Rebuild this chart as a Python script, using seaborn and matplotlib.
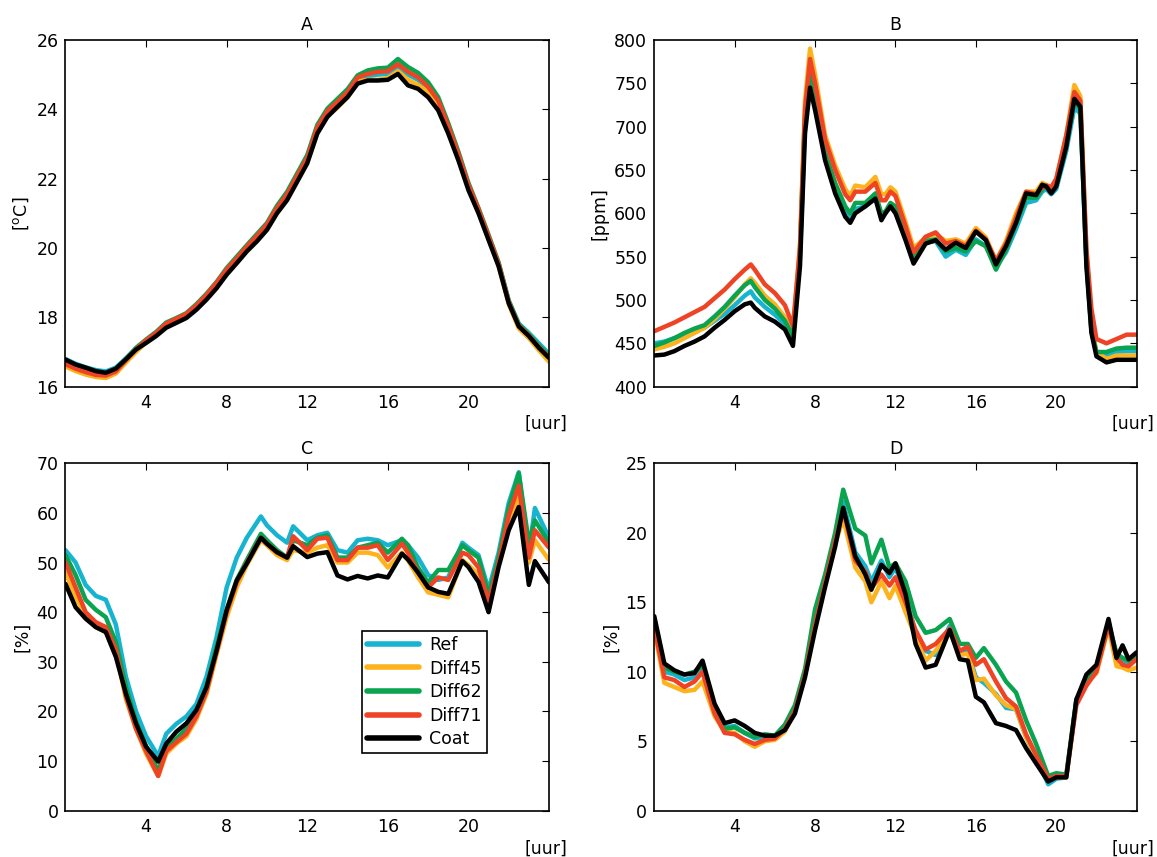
import numpy as np
import pandas as pd
import matplotlib
matplotlib.use("Agg")
import matplotlib.pyplot as plt
import seaborn as sns

series = ["Ref", "Diff45", "Diff62", "Diff71", "Coat"]
colors = {"Ref": "#17b4d0", "Diff45": "#fcb31e", "Diff62": "#0aa350",
          "Diff71": "#ee4325", "Coat": "#000000"}

# A: temperature [oC], half-hourly
hours_a = [0, 0.5, 1, 1.5, 2, 2.5, 3, 3.5, 4, 4.5, 5, 5.5, 6, 6.5, 7, 7.5, 8, 8.5,
           9, 9.5, 10, 10.5, 11, 11.5, 12, 12.5, 13, 13.5, 14, 14.5, 15, 15.5, 16,
           16.5, 17, 17.5, 18, 18.5, 19, 19.5, 20, 20.5, 21, 21.5, 22, 22.5, 23, 23.5, 24]
temp_ref = [16.80, 16.66, 16.56, 16.48, 16.44, 16.55, 16.82, 17.10, 17.32, 17.52, 17.78, 17.92,
            18.05, 18.30, 18.60, 18.95, 19.33, 19.66, 20.00, 20.30, 20.62, 21.10, 21.50, 22.02,
            22.55, 23.42, 23.90, 24.17, 24.45, 24.85, 24.95, 25.00, 25.02, 25.20, 25.00, 24.85,
            24.60, 24.20, 23.48, 22.68, 21.80, 21.10, 20.32, 19.55, 18.48, 17.82, 17.55, 17.25, 16.95]
temp_d45 = [16.58, 16.45, 16.35, 16.28, 16.25, 16.38, 16.70, 17.00, 17.28, 17.50, 17.76, 17.90,
            18.02, 18.28, 18.55, 18.90, 19.28, 19.60, 19.95, 20.25, 20.55, 21.05, 21.42, 21.95,
            22.48, 23.35, 23.80, 24.05, 24.35, 24.80, 24.85, 24.85, 24.90, 25.10, 24.85, 24.70,
            24.50, 24.10, 23.40, 22.60, 21.75, 21.05, 20.27, 19.48, 18.38, 17.68, 17.40, 17.05, 16.72]
temp_d62 = [16.72, 16.60, 16.50, 16.42, 16.38, 16.48, 16.80, 17.12, 17.36, 17.58, 17.85, 17.98,
            18.12, 18.38, 18.68, 19.02, 19.42, 19.75, 20.08, 20.40, 20.72, 21.22, 21.62, 22.15,
            22.68, 23.55, 24.02, 24.30, 24.58, 24.98, 25.12, 25.18, 25.20, 25.45, 25.22, 25.05,
            24.78, 24.35, 23.60, 22.78, 21.88, 21.15, 20.38, 19.58, 18.48, 17.80, 17.50, 17.18, 16.88]
temp_d71 = [16.65, 16.52, 16.42, 16.34, 16.32, 16.44, 16.76, 17.08, 17.34, 17.55, 17.82, 17.96,
            18.10, 18.35, 18.65, 19.00, 19.38, 19.70, 20.04, 20.35, 20.68, 21.16, 21.55, 22.08,
            22.60, 23.48, 23.95, 24.22, 24.50, 24.92, 25.02, 25.08, 25.10, 25.30, 25.08, 24.92,
            24.65, 24.25, 23.52, 22.72, 21.82, 21.12, 20.34, 19.54, 18.44, 17.76, 17.48, 17.14, 16.85]
temp_coat = [16.78, 16.64, 16.55, 16.45, 16.40, 16.52, 16.79, 17.07, 17.26, 17.46, 17.70, 17.84,
             17.98, 18.22, 18.51, 18.84, 19.23, 19.56, 19.90, 20.19, 20.52, 21.00, 21.38, 21.91,
             22.44, 23.30, 23.78, 24.07, 24.35, 24.74, 24.83, 24.83, 24.85, 25.02, 24.69, 24.59,
             24.35, 23.97, 23.30, 22.53, 21.67, 21.00, 20.23, 19.47, 18.41, 17.74, 17.46, 17.12, 16.83]

# B: CO2 [ppm]
hours_b = [0, 0.5, 1, 1.5, 2, 2.5, 3, 3.5, 4, 4.5, 4.8, 5, 5.5, 6, 6.5, 6.9, 7.25, 7.5, 7.75, 8,
           8.5, 9, 9.5, 9.75, 10, 10.5, 11, 11.3, 11.5, 11.75, 12, 12.5, 12.9, 13.5, 14, 14.5, 15,
           15.5, 16, 16.5, 17, 17.5, 18, 18.5, 19, 19.3, 19.5, 19.75, 20, 20.5, 20.9, 21.2, 21.5,
           21.75, 22, 22.5, 23, 23.5, 24]
co2_ref = [450, 452, 456, 460, 464, 468, 476, 484, 494, 505, 510, 503, 492, 483, 472, 455, 550, 705,
           758, 730, 665, 630, 603, 596, 605, 608, 618, 596, 600, 608, 602, 572, 546, 566, 568, 550,
           558, 552, 570, 562, 538, 555, 582, 612, 615, 625, 628, 622, 628, 672, 722, 715, 545, 465,
           438, 436, 440, 441, 441]
co2_d45 = [443, 446, 450, 456, 462, 468, 478, 490, 503, 518, 525, 520, 505, 495, 480, 462, 565, 730,
           790, 760, 690, 655, 628, 620, 632, 630, 642, 622, 622, 630, 625, 590, 560, 572, 576, 568,
           570, 565, 583, 572, 545, 568, 600, 625, 625, 635, 633, 630, 638, 690, 748, 735, 555, 470,
           440, 432, 436, 436, 436]
co2_d62 = [447, 451, 456, 462, 467, 471, 481, 492, 505, 517, 522, 515, 500, 490, 476, 458, 555, 710,
           762, 735, 670, 635, 608, 600, 612, 612, 623, 600, 602, 612, 608, 578, 550, 568, 570, 556,
           560, 556, 568, 562, 535, 558, 588, 618, 618, 628, 632, 625, 632, 680, 730, 720, 545, 465,
           440, 440, 444, 445, 445]
co2_d71 = [464, 469, 474, 480, 486, 492, 502, 512, 524, 535, 541, 535, 518, 508, 494, 470, 560, 720,
           778, 750, 685, 650, 622, 615, 625, 625, 635, 615, 615, 625, 620, 585, 555, 573, 578, 565,
           568, 562, 580, 570, 545, 565, 595, 625, 622, 630, 632, 630, 640, 690, 740, 730, 560, 490,
           455, 450, 455, 460, 460]
co2_coat = [436, 437, 441, 447, 452, 458, 468, 477, 487, 495, 497, 491, 481, 475, 466, 447, 539, 692,
            745, 719, 661, 623, 596, 589, 600, 608, 617, 592, 600, 608, 600, 569, 542, 565, 569, 558,
            566, 560, 579, 569, 541, 562, 589, 623, 621, 633, 631, 623, 631, 677, 732, 723, 539, 462,
            435, 428, 431, 431, 431]

# C: relative humidity [%]
hours_c = [0, 0.5, 1, 1.5, 2, 2.5, 3, 3.5, 4, 4.6, 5, 5.5, 6, 6.5, 7, 7.5, 8, 8.5, 9, 9.7, 10,
           10.5, 11, 11.3, 12, 12.5, 13, 13.5, 14, 14.5, 15, 15.5, 16, 16.7, 17, 17.5, 18, 18.5,
           19, 19.7, 20, 20.5, 21, 21.5, 22, 22.5, 23, 23.3, 24]
rh_ref = [52.5, 50.0, 45.5, 43.3, 42.5, 37.5, 27.0, 20.0, 15.0, 11.0, 15.5, 17.5, 19.0, 21.5, 27.0,
          35.0, 45.0, 51.0, 55.0, 59.3, 57.5, 55.5, 54.0, 57.3, 54.5, 55.5, 56.0, 52.5, 52.0, 54.5,
          54.8, 54.5, 53.5, 54.5, 53.5, 51.0, 47.5, 46.5, 47.0, 54.0, 53.0, 51.5, 44.5, 52.0, 62.0,
          68.2, 52.0, 61.0, 55.0]
rh_d45 = [48.0, 43.0, 39.5, 37.0, 36.0, 32.0, 22.5, 16.5, 11.5, 7.0, 11.5, 13.5, 15.0, 18.5, 23.5,
          31.5, 39.0, 45.0, 49.5, 54.5, 53.5, 51.5, 50.5, 52.5, 52.0, 53.0, 53.5, 50.0, 50.0, 52.0,
          52.0, 51.5, 49.0, 52.0, 50.5, 47.0, 44.0, 43.5, 43.0, 50.5, 49.5, 47.5, 41.0, 50.0, 57.5,
          63.0, 50.0, 54.5, 50.5]
rh_d62 = [51.5, 47.5, 42.5, 40.5, 39.0, 34.0, 25.0, 18.0, 13.0, 8.0, 12.5, 14.5, 16.5, 20.0, 25.0,
          33.0, 40.5, 46.5, 50.5, 55.8, 54.5, 52.5, 51.0, 54.5, 53.5, 55.0, 55.5, 51.0, 51.0, 53.0,
          53.5, 54.0, 52.0, 54.8, 53.5, 49.0, 46.0, 48.5, 48.5, 53.5, 52.5, 51.0, 43.5, 51.0, 61.0,
          68.0, 54.0, 58.5, 54.0]
rh_d71 = [50.0, 45.0, 40.0, 38.0, 37.0, 32.5, 23.0, 16.5, 12.0, 7.0, 12.0, 13.8, 15.5, 19.0, 24.0,
          32.0, 40.0, 46.0, 50.0, 55.0, 53.8, 52.0, 51.0, 55.3, 52.5, 54.8, 55.0, 50.5, 50.5, 53.0,
          53.0, 53.5, 50.5, 53.8, 52.0, 48.0, 45.0, 47.0, 46.5, 52.0, 51.5, 49.0, 42.0, 50.0, 59.5,
          65.5, 51.0, 56.5, 53.0]
rh_coat = [45.7, 41.0, 38.7, 37.0, 36.0, 31.0, 23.6, 17.6, 12.9, 9.9, 13.5, 15.9, 17.6, 20.3, 24.9,
           32.3, 40.4, 46.4, 49.8, 55.0, 53.8, 52.1, 51.0, 53.3, 51.1, 51.8, 52.1, 47.4, 46.6, 47.3,
           46.8, 47.4, 47.0, 51.8, 50.6, 48.0, 45.0, 44.1, 43.7, 50.3, 49.1, 46.1, 40.0, 49.1, 56.5,
           61.2, 45.5, 50.3, 46.0]

# D: [%]
hours_d = [0, 0.5, 1, 1.5, 2, 2.4, 3, 3.5, 4, 4.5, 5, 5.5, 6, 6.5, 7, 7.5, 8, 8.5, 9, 9.4, 10,
           10.5, 10.8, 11.3, 11.7, 12, 12.5, 13, 13.5, 14, 14.7, 15.2, 15.6, 16, 16.4, 17, 17.5,
           18, 18.5, 19, 19.6, 20, 20.5, 21, 21.5, 22, 22.6, 23, 23.3, 23.6, 24]
d_ref = [13.3, 10.0, 9.8, 9.4, 9.6, 10.2, 7.3, 6.0, 6.1, 5.6, 5.2, 5.3, 5.3, 5.9, 7.3, 9.9, 13.7,
         16.6, 19.6, 22.2, 18.6, 17.6, 16.5, 18.0, 16.8, 17.5, 15.5, 12.8, 11.5, 11.2, 13.3, 11.3,
         11.5, 9.6, 9.2, 8.4, 7.4, 7.3, 5.3, 3.8, 1.9, 2.3, 2.4, 7.9, 9.5, 10.2, 13.6, 11.2, 10.8,
         10.7, 11.0]
d_d45 = [13.0, 9.2, 8.9, 8.6, 8.7, 9.3, 6.8, 5.7, 5.6, 5.0, 4.6, 5.0, 5.1, 5.7, 7.2, 9.8, 13.4,
         16.3, 19.2, 21.0, 17.5, 16.5, 15.0, 16.5, 15.3, 16.2, 14.3, 12.5, 10.8, 11.5, 12.9, 11.2,
         11.3, 9.4, 9.5, 8.3, 7.6, 7.3, 5.3, 3.9, 2.2, 2.4, 2.4, 7.8, 9.3, 9.9, 13.2, 10.4, 10.3,
         10.1, 10.3]
d_d62 = [13.5, 10.3, 10.0, 9.8, 10.0, 10.5, 7.4, 5.9, 6.0, 5.6, 5.3, 5.5, 5.4, 6.2, 7.6, 10.2, 14.5,
         17.0, 20.0, 23.1, 20.3, 19.8, 17.8, 19.5, 17.5, 17.8, 16.5, 14.0, 12.8, 13.0, 13.8, 12.0,
         12.0, 11.0, 11.7, 10.5, 9.3, 8.5, 6.5, 4.8, 2.5, 2.7, 2.6, 8.0, 9.4, 10.3, 13.5, 11.3, 11.0,
         10.8, 11.2]
d_d71 = [13.2, 9.6, 9.4, 8.9, 9.3, 10.0, 7.0, 5.6, 5.5, 5.1, 4.8, 5.1, 5.2, 5.9, 7.2, 9.8, 13.4,
         16.4, 19.4, 21.7, 18.0, 17.2, 16.0, 17.0, 16.2, 16.8, 15.0, 13.0, 11.6, 12.0, 13.1, 11.5,
         11.8, 10.5, 10.9, 9.3, 8.1, 7.5, 5.5, 4.0, 2.3, 2.5, 2.5, 7.6, 9.0, 10.0, 13.4, 11.0, 10.5,
         10.4, 10.9]
d_coat = [14.0, 10.6, 10.1, 9.8, 9.9, 10.8, 7.7, 6.3, 6.5, 6.1, 5.6, 5.4, 5.4, 5.8, 7.0, 9.6, 13.0,
          16.1, 19.0, 21.8, 18.3, 17.0, 15.9, 17.7, 17.1, 17.8, 15.6, 12.0, 10.3, 10.5, 13.0, 10.9,
          10.8, 8.2, 7.8, 6.3, 6.1, 5.8, 4.5, 3.4, 2.1, 2.4, 2.4, 8.0, 9.8, 10.5, 13.8, 11.0, 11.9,
          10.9, 11.4]

panels = [
    ("A", "[$^\\mathrm{o}$C]", hours_a, [temp_ref, temp_d45, temp_d62, temp_d71, temp_coat],
     (16, 26), [16, 18, 20, 22, 24, 26]),
    ("B", "[ppm]", hours_b, [co2_ref, co2_d45, co2_d62, co2_d71, co2_coat],
     (400, 800), [400, 450, 500, 550, 600, 650, 700, 750, 800]),
    ("C", "[%]", hours_c, [rh_ref, rh_d45, rh_d62, rh_d71, rh_coat],
     (0, 70), [0, 10, 20, 30, 40, 50, 60, 70]),
    ("D", "[%]", hours_d, [d_ref, d_d45, d_d62, d_d71, d_coat],
     (0, 25), [0, 5, 10, 15, 20, 25]),
]

sns.set_style("white")
plt.rcParams["font.family"] = ["DejaVu Sans"]
plt.rcParams["font.size"] = 12.5
plt.rcParams["text.color"] = "black"
plt.rcParams["axes.labelcolor"] = "black"

fig = plt.figure(figsize=(11.57, 8.57), dpi=100)
rects = [(0.0566, 0.5488, 0.4179, 0.4046), (0.5655, 0.5488, 0.4169, 0.4046),
         (0.0566, 0.054, 0.4179, 0.4054), (0.5655, 0.054, 0.4169, 0.4054)]

for (title, ylab, hrs, vals, ylim, yt), rect in zip(panels, rects):
    ax = fig.add_axes(rect)
    df = pd.concat([pd.DataFrame({"uur": hrs, "waarde": v, "serie": s})
                    for s, v in zip(series, vals)], ignore_index=True)
    sns.lineplot(data=df, x="uur", y="waarde", hue="serie", hue_order=series,
                 palette=colors, linewidth=3.2, sort=False, ax=ax,
                 legend=(title == "C"), solid_joinstyle="round",
                 solid_capstyle="round")
    ax.set_xlim(0, 24)
    ax.set_ylim(*ylim)
    ax.set_xticks([4, 8, 12, 16, 20])
    ax.set_yticks(yt)
    ax.set_xlabel("")
    ax.set_ylabel(ylab, fontsize=12.5, color="black")
    ax.set_title(title, fontsize=12.5, pad=7, color="black")
    ax.tick_params(direction="in", length=5, width=0.8, top=True, right=True,
                   labelsize=12.5, colors="black", pad=5)
    for sp in ax.spines.values():
        sp.set_color("black")
        sp.set_linewidth(1.2)
    ax.text(1.037, -0.108, "[uur]", transform=ax.transAxes, ha="right",
            va="center", fontsize=12.5, color="black")
    if title == "C":
        leg = ax.legend(loc="lower left", bbox_to_anchor=(0.6126, 0.165),
                        borderaxespad=0, fancybox=False, framealpha=1,
                        edgecolor="black", handlelength=3.0, labelspacing=0.32,
                        fontsize=12.5, borderpad=0.3, handletextpad=0.6)
        leg.get_frame().set_linewidth(1.2)
        for line in leg.get_lines():
            line.set_linewidth(4)

fig.savefig("out.png", dpi=100)
